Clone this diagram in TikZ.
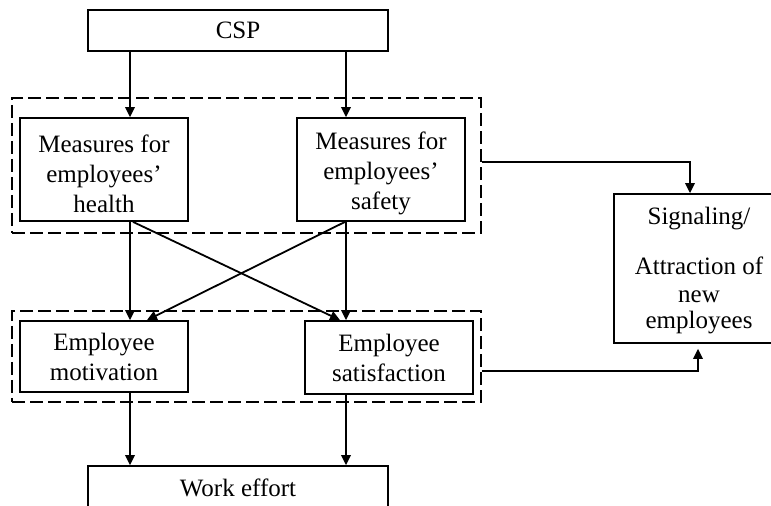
\documentclass[tikz,border=0pt]{standalone}
\usepackage{fontspec}
\setmainfont{Liberation Serif}
\usetikzlibrary{arrows.meta}

\tikzset{
  box/.style={draw, line width=0.9pt, rectangle, align=center, inner sep=0pt,
              font=\fontsize{12.5pt}{15pt}\selectfont},
  group/.style={draw, line width=0.9pt, rectangle, inner sep=0pt,
                dash pattern=on 6.5pt off 2.5pt},
  link/.style={line width=0.9pt, -{Triangle[length=5pt,width=4.8pt]}},
  plaintext/.style={align=center, inner sep=0pt,
                    font=\fontsize{12.5pt}{12.5pt}\selectfont},
}
% extra room above the first line of a box
\newcommand{\toproom}{\rule{0pt}{13pt}}

\begin{document}
\begin{tikzpicture}[x=0.5pt, y=-0.5pt]
  \useasboundingbox (0,0) rectangle (771,506);
  \clip (0,0) rectangle (771,506);

  % dashed groupings
  \node[group, minimum width=234.5pt, minimum height=67.5pt] (g1) at (246.5,165.5) {};
  \node[group, minimum width=234.5pt, minimum height=45.5pt] (g2) at (246.5,356.5) {};

  % boxes
  \node[box, minimum width=150pt, minimum height=20.5pt] (csp) at (238,30.5) {CSP};
  \node[box, minimum width=84pt, minimum height=51.5pt] (health) at (104,169.5)
    {\toproom Measures for\\employees’\\health};
  \node[box, minimum width=84pt, minimum height=51.5pt] (safety) at (381,169.5)
    {\toproom Measures for\\employees’\\safety};
  \node[box, minimum width=84pt, minimum height=35.5pt] (motiv) at (104,356.5)
    {Employee\\motivation};
  \node[box, minimum width=84pt, minimum height=36.5pt] (satis) at (389,357.5)
    {Employee\\satisfaction};
  \node[box, minimum width=150pt, minimum height=22pt] (work) at (238,488)
    {Work effort};
  \node[box, minimum width=84pt, minimum height=74.5pt] (signal) at (698,268.5) {};
  \node[plaintext] (signaltext) at (699,271)
    {Signaling/\\[12.5pt]Attraction of\\[1.5pt]new\\[0.5pt]employees};

  % column guides for the vertical connectors
  \coordinate (xl) at (130,0);
  \coordinate (xr) at (346,0);
  \coordinate (hs) at (133,0);
  \coordinate (ss) at (345,0);
  \coordinate (mt) at (147,0);
  \coordinate (st) at (340,0);
  \coordinate (up) at (690,162);
  \coordinate (lo) at (698,371);

  % CSP to the two kinds of measures
  \draw[link] (csp.south -| xl) -- (health.north -| xl);
  \draw[link] (csp.south -| xr) -- (safety.north -| xr);

  % measures to motivation and satisfaction
  \draw[link] (health.south -| xl) -- (motiv.north -| xl);
  \draw[link] (safety.south -| xr) -- (satis.north -| xr);
  \draw[link] (health.south -| hs) -- (satis.north -| st);
  \draw[link] (safety.south -| ss) -- (motiv.north -| mt);

  % motivation and satisfaction to work effort
  \draw[link] (motiv.south -| xl) -- (work.north -| xl);
  \draw[link] (satis.south -| xr) -- (work.north -| xr);

  % signaling effects
  \draw[link] (g1.east |- up) -| (signal.north -| up);
  \draw[link, shorten >=2.5pt] (g2.east |- lo) -| (signal.south -| lo);
\end{tikzpicture}
\end{document}
